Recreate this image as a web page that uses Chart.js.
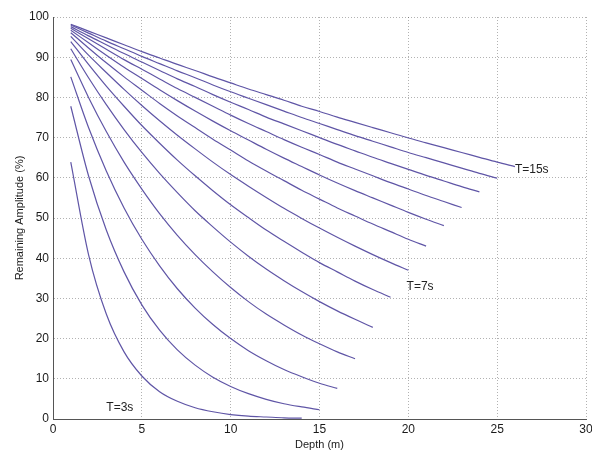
<!DOCTYPE html>
<html>
<head>
<meta charset="utf-8">
<script src="https://cdn.jsdelivr.net/npm/chart.js@4"></script>
<style>
  html, body { margin: 0; padding: 0; background: #fff; }
  #wrap { width: 592px; height: 450px; position: relative; }
</style>
</head>
<body>
<div id="wrap"><canvas id="c" width="592" height="450"></canvas></div>
<script>
// Depth values (m) shared by all curves
const depth = [1,2,3,4,5,6,7,8,9,10,11,12,13,14,15,16,17,18,19,20,21,22,23,24,25,26];

// Remaining amplitude (%) per wave period
const ampT3  = [63.9,40.9,26.1,16.7,10.7,6.8,4.4,2.8,1.8,1.1,0.7,0.5,0.3,0.2];
const ampT4  = [77.8,60.5,47.0,36.6,28.4,22.1,17.2,13.4,10.4,8.1,6.3,4.9,3.8,3.0,2.3];
const ampT5  = [85.1,72.5,61.7,52.5,44.7,38.1,32.4,27.6,23.5,20.0,17.0,14.5,12.3,10.5,8.9,7.6];
const ampT6  = [89.4,80.0,71.5,63.9,57.2,51.1,45.7,40.9,36.6,32.7,29.2,26.1,23.4,20.9,18.7,16.7,15.0];
const ampT7  = [92.1,84.9,78.2,72.0,66.3,61.1,56.3,51.8,47.8,44.0,40.5,37.3,34.4,31.7,29.2,26.9,24.8,22.8];
const ampT8  = [93.9,88.2,82.8,77.8,73.0,68.6,64.4,60.5,56.8,53.3,50.1,47.0,44.2,41.5,38.9,36.6,34.3,32.2,30.3];
const ampT9  = [95.2,90.5,86.2,82.0,78.0,74.2,70.6,67.2,63.9,60.8,57.9,55.1,52.4,49.9,47.5,45.2,43.0,40.9,38.9,37.0];
const ampT10 = [96.1,92.3,88.6,85.1,81.8,78.5,75.4,72.5,69.6,66.9,64.2,61.7,59.3,56.9,54.7,52.5,50.5,48.5,46.6,44.7,43.0];
const ampT11 = [96.7,93.6,90.5,87.5,84.7,81.9,79.2,76.6,74.1,71.7,69.4,67.1,64.9,62.8,60.7,58.7,56.8,55.0,53.2,51.4,49.7,48.1];
const ampT12 = [97.2,94.6,92.0,89.4,87.0,84.6,82.2,80.0,77.8,75.6,73.5,71.5,69.5,67.6,65.8,63.9,62.2,60.5,58.8,57.2,55.6,54.1,52.6];
const ampT13 = [97.6,95.3,93.1,90.9,88.8,86.7,84.6,82.7,80.7,78.8,77.0,75.1,73.4,71.7,70.0,68.3,66.7,65.1,63.6,62.1,60.6,59.2,57.8,56.5];
const ampT14 = [98.0,96.0,94.0,92.1,90.2,88.4,86.6,84.9,83.1,81.4,79.8,78.2,76.6,75.0,73.5,72.0,70.5,69.1,67.7,66.3,65.0,63.7,62.4,61.1,59.9];
const ampT15 = [98.2,96.5,94.8,93.1,91.4,89.8,88.2,86.7,85.1,83.6,82.1,80.7,79.3,77.8,76.5,75.1,73.8,72.5,71.2,69.9,68.7,67.5,66.3,65.1,63.9,62.8];

const seriesNames = ['T=3s','T=4s','T=5s','T=6s','T=7s','T=8s','T=9s','T=10s','T=11s','T=12s','T=13s','T=14s','T=15s'];
const seriesValues = [ampT3,ampT4,ampT5,ampT6,ampT7,ampT8,ampT9,ampT10,ampT11,ampT12,ampT13,ampT14,ampT15];

// Curve annotations (text, depth, amplitude)
const noteText = ['T=15s','T=7s','T=3s'];
const noteX = [26.0, 19.9, 3.0];
const noteY = [62.0, 32.9, 2.8];

const xTicks = [0,5,10,15,20,25,30];
const yTicks = [0,10,20,30,40,50,60,70,80,90,100];

const LINE = '#5f55a6';
const FONT = '"Liberation Sans", Arial, sans-serif';

const datasets = seriesValues.map((vals, i) => ({
  label: seriesNames[i],
  data: vals.map((v, j) => ({x: depth[j], y: v})),
  borderColor: LINE,
  borderWidth: 1.2,
  pointRadius: 0,
  fill: false,
  cubicInterpolationMode: 'monotone'
}));

const notesPlugin = {
  id: 'notes',
  afterDatasetsDraw(chart) {
    const {ctx, scales} = chart;
    ctx.save();
    ctx.font = '12px ' + FONT;
    ctx.fillStyle = '#222';
    ctx.textAlign = 'left';
    ctx.textBaseline = 'middle';
    noteText.forEach((t, i) => {
      ctx.fillText(t, scales.x.getPixelForValue(noteX[i]), scales.y.getPixelForValue(noteY[i]));
    });
    ctx.restore();
  }
};

function zeroPad(s) { s.paddingLeft = 0; s.paddingRight = 0; s.paddingTop = 0; s.paddingBottom = 0; }

new Chart(document.getElementById('c'), {
  type: 'line',
  data: { datasets },
  plugins: [notesPlugin],
  options: {
    responsive: false,
    animation: false,
    layout: { padding: { top: 17, right: 6, left: 0, bottom: 0 } },
    plugins: { legend: { display: false }, tooltip: { enabled: false } },
    scales: {
      x: {
        type: 'linear', min: 0, max: 30,
        afterFit(s) { s.height = 31; zeroPad(s); },
        afterBuildTicks(s) { s.ticks = xTicks.map(v => ({value: v})); },
        ticks: { color: '#1a1a1a', font: { size: 12, family: FONT }, padding: 3, maxRotation: 0 },
        grid: { color: 'rgba(0,0,0,0.3)', drawTicks: false, lineWidth: 1 },
        border: { display: true, color: '#555', width: 1, dash: [1, 2] },
        title: { display: true, text: 'Depth (m)', color: '#1a1a1a', font: { size: 11, family: FONT, lineHeight: 1 }, padding: { top: 0, bottom: 0 } }
      },
      y: {
        type: 'linear', min: 0, max: 100,
        afterFit(s) { s.width = 53; zeroPad(s); },
        afterBuildTicks(s) { s.ticks = yTicks.map(v => ({value: v})); },
        ticks: { color: '#1a1a1a', font: { size: 12, family: FONT }, padding: 4 },
        grid: { color: 'rgba(0,0,0,0.3)', drawTicks: false, lineWidth: 1 },
        border: { display: true, color: '#555', width: 1, dash: [1, 2] },
        title: { display: true, text: 'Remaining Amplitude (%)', color: '#1a1a1a', font: { size: 11, family: FONT, lineHeight: 1 }, padding: { top: 14, bottom: 0 } }
      }
    }
  }
});
</script>
</body>
</html>
